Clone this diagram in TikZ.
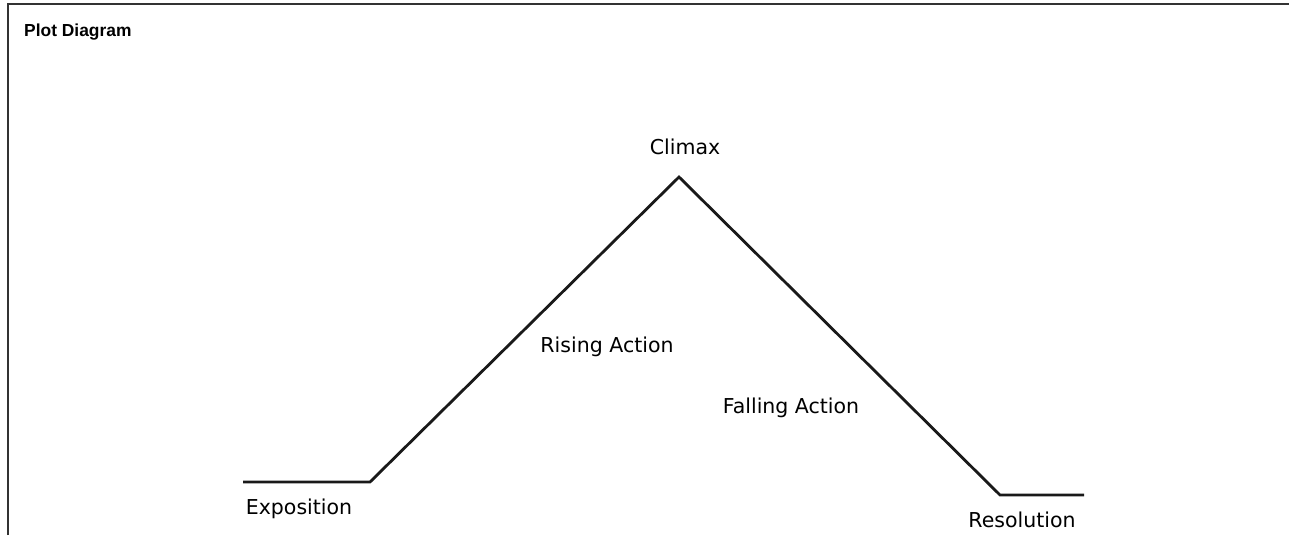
\documentclass[tikz,border=0pt]{standalone}
\usepackage{fontspec}
\setmainfont{DejaVu Sans}
\newfontfamily\titlefont{Liberation Sans}
\tikzset{stagelabel/.style={inner sep=0pt,anchor=base,font=\fontsize{20.5}{24}\selectfont},
	plotline/.style={line width=2.8pt,line join=miter,black!90}}
\begin{document}
\begin{tikzpicture} [x=1pt,y=-1pt]
		\useasboundingbox (0,0) rectangle (1289,535);
		\draw [line width=1.8pt,black!80] (8,535) -- (8,4) -- (1289,4);
		\node [inner sep=0pt,anchor=base west,font=\titlefont\bfseries\fontsize{17.4}{20}\selectfont] (title) at (24,37) {Plot Diagram};
		\coordinate (expoStart) at (243,482);
		\coordinate (riseStart) at (370,482);
		\coordinate (peak) at (679,177);
		\coordinate (fallEnd) at (1000,495);
		\coordinate (resoEnd) at (1084,495);
		\draw [plotline] (expoStart) -- (riseStart) -- (peak) -- (fallEnd) -- (resoEnd);
		\node [stagelabel] (climax) at (685,154) {Climax};
		\node [stagelabel] (rising) at (607,352) {Rising Action};
		\node [stagelabel] (falling) at (791,413) {Falling Action};
		\node [stagelabel] (expo) at (299,514) {Exposition};
		\node [stagelabel] (reso) at (1022,527) {Resolution};
	\end{tikzpicture}
\end{document}
